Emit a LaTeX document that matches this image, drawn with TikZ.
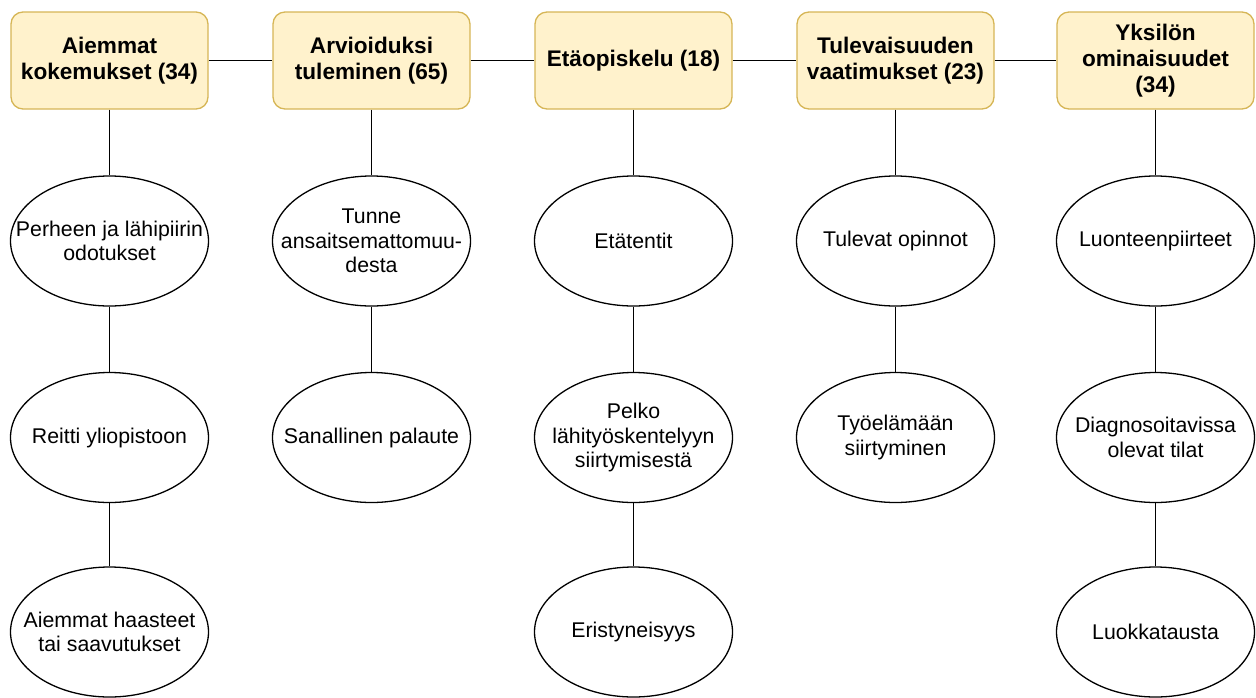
\documentclass[tikz,border=0pt]{standalone}
\usepackage{fontspec}
\setmainfont{Liberation Sans}
\usetikzlibrary{shapes.geometric}
\definecolor{boxfill}{HTML}{FFF2CC}
\definecolor{boxdraw}{HTML}{D6B656}
\tikzset{
  head/.style={draw=boxdraw, fill=boxfill, line width=1.3pt, rounded corners=12pt,
    minimum width=197pt, minimum height=97pt, inner sep=0pt, align=center,
    font=\fontsize{22.6}{26}\selectfont\bfseries},
  oval/.style={draw=black, ellipse, line width=1.3pt, minimum width=198pt,
    minimum height=130pt, inner sep=0pt},
  lbl/.style={align=center, inner sep=0pt, font=\fontsize{21.3}{24.5}\selectfont},
  link/.style={draw=black, line width=1.3pt}
}
\begin{document}
\begin{tikzpicture}[x=1pt,y=-1pt]
\useasboundingbox (0,0) rectangle (1256,697);
% headers
\node[head] (h1) at (109.5,60.5) {Aiemmat\\kokemukset (34)};
\node[head] (h2) at (371.5,60.5) {Arvioiduksi\\tuleminen (65)};
\node[head] (h3) at (633.5,60.5) {Etäopiskelu (18)};
\node[head] (h4) at (895.5,60.5) {Tulevaisuuden\\vaatimukset (23)};
\node[head] (h5) at (1155.5,60.5) {Yksilön\\ominaisuudet\\(34)};
\draw[link] (h1) -- (h2);
\draw[link] (h2) -- (h3);
\draw[link] (h3) -- (h4);
\draw[link] (h4) -- (h5);
% column 1
\node[oval] (a1) at (109.5,241) {};
\node[lbl] (ta1) at (a1) {Perheen ja lähipiirin\\odotukset};
\node[oval] (a2) at (109.5,437.5) {};
\node[lbl] (ta2) at (a2) {Reitti yliopistoon};
\node[oval] (a3) at (109.5,632) {};
\node[lbl] (ta3) at (a3) {Aiemmat haasteet\\tai saavutukset};
\draw[link] (h1) -- (a1);
\draw[link] (a1) -- (a2);
\draw[link] (a2) -- (a3);
% column 2
\node[oval] (b1) at (371.5,241) {};
\node[lbl] (tb1) at (b1) {Tunne\\ansaitsemattomuu-\\desta};
\node[oval] (b2) at (371.5,437.5) {};
\node[lbl] (tb2) at (b2) {Sanallinen palaute};
\draw[link] (h2) -- (b1);
\draw[link] (b1) -- (b2);
% column 3
\node[oval] (c1) at (633.5,241) {};
\node[lbl] (tc1) at (c1) {Etätentit};
\node[oval] (c2) at (633.5,437.5) {};
\node[lbl] (tc2) at (c2) {Pelko\\lähityöskentelyyn\\siirtymisestä};
\node[oval] (c3) at (633.5,632) {};
\node[lbl] (tc3) at (c3) {Eristyneisyys};
\draw[link] (h3) -- (c1);
\draw[link] (c1) -- (c2);
\draw[link] (c2) -- (c3);
% column 4
\node[oval] (d1) at (895.5,241) {};
\node[lbl] (td1) at (d1) {Tulevat opinnot};
\node[oval] (d2) at (895.5,437.5) {};
\node[lbl] (td2) at (d2) {Työelämään\\siirtyminen};
\draw[link] (h4) -- (d1);
\draw[link] (d1) -- (d2);
% column 5
\node[oval] (e1) at (1155.5,241) {};
\node[lbl] (te1) at (e1) {Luonteenpiirteet};
\node[oval] (e2) at (1155.5,437.5) {};
\node[lbl] (te2) at (e2) {Diagnosoitavissa\\olevat tilat};
\node[oval] (e3) at (1155.5,632) {};
\node[lbl] (te3) at (e3) {Luokkatausta};
\draw[link] (h5) -- (e1);
\draw[link] (e1) -- (e2);
\draw[link] (e2) -- (e3);
\end{tikzpicture}
\end{document}
